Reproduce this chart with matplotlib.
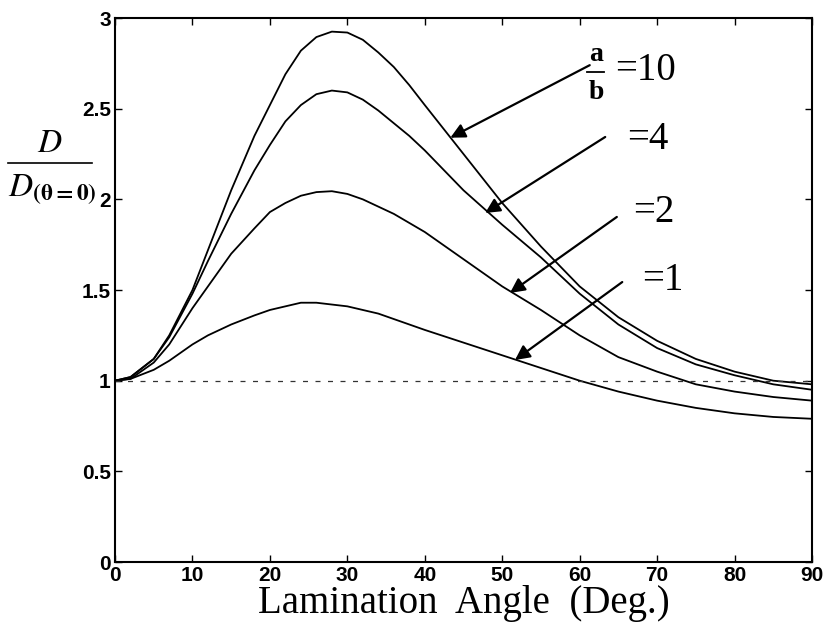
import numpy as np
import matplotlib
matplotlib.use('Agg')
import matplotlib.pyplot as plt
from matplotlib.lines import Line2D

# lamination angle (deg)
angle = [0, 2, 5, 7, 10, 12, 15, 18, 20, 22, 24, 26, 28, 30, 32, 34, 36, 38, 40,
	45, 50, 55, 60, 65, 70, 75, 80, 85, 90]

# D / D(theta=0) for a/b = 10, 4, 2, 1
d_ab10 = [1.00, 1.02, 1.12, 1.25, 1.50, 1.72, 2.05, 2.35, 2.52, 2.69, 2.82, 2.895, 2.925, 2.92,
	2.88, 2.81, 2.73, 2.63, 2.52, 2.25, 1.98, 1.74, 1.52, 1.35, 1.22, 1.12, 1.05, 1.00, 0.98]
d_ab4 = [1.00, 1.02, 1.12, 1.24, 1.48, 1.66, 1.92, 2.16, 2.30, 2.43, 2.52, 2.58, 2.60, 2.59,
	2.55, 2.49, 2.42, 2.35, 2.27, 2.05, 1.86, 1.68, 1.48, 1.31, 1.18, 1.09, 1.03, 0.98, 0.95]
d_ab2 = [1.00, 1.01, 1.10, 1.20, 1.40, 1.52, 1.70, 1.84, 1.93, 1.98, 2.02, 2.04, 2.045, 2.03,
	2.00, 1.96, 1.92, 1.87, 1.82, 1.67, 1.52, 1.39, 1.25, 1.13, 1.05, 0.98, 0.94, 0.91, 0.89]
d_ab1 = [1.00, 1.01, 1.06, 1.11, 1.20, 1.25, 1.31, 1.36, 1.39, 1.41, 1.43, 1.43, 1.42, 1.41,
	1.39, 1.37, 1.34, 1.31, 1.28, 1.21, 1.14, 1.07, 1.00, 0.94, 0.89, 0.85, 0.82, 0.80, 0.79]

xticks = [0, 10, 20, 30, 40, 50, 60, 70, 80, 90]
yticks = [0, 0.5, 1, 1.5, 2, 2.5, 3]
ytick_labels = ['0', '0.5', '1', '1.5', '2', '2.5', '3']

plt.rcParams['mathtext.fontset'] = 'stix'

fig = plt.figure(figsize=(8.24, 6.44), dpi=100)
ax = fig.add_axes([0.1396, 0.1273, 0.8458, 0.8447])

for d in [d_ab10, d_ab4, d_ab2, d_ab1]:
	ax.plot(angle, d, color='black', lw=1.3)

# reference line D = D(theta=0)
ax.axhline(1.0, color='#333333', lw=0.9, ls=(0, (4, 6)))

ax.set_xlim(0, 90)
ax.set_ylim(0, 3)
ax.set_xticks(xticks)
ax.set_yticks(yticks)
ax.set_yticklabels(ytick_labels)
ax.tick_params(direction='in', top=True, right=True, length=5, width=1,
	labelsize=15, pad=3)
for lab in ax.get_xticklabels() + ax.get_yticklabels():
	lab.set_fontfamily('Liberation Sans')
	lab.set_fontweight('bold')
for sp in ax.spines.values():
	sp.set_linewidth(1.5)

ax.set_xlabel('Lamination  Angle  (Deg.)', family='Liberation Serif',
	fontsize=28, labelpad=0)

# arrows pointing to the curves
arrow_kw = dict(arrowstyle='-|>', color='black', lw=1.6, mutation_scale=22,
	shrinkA=0, shrinkB=0)
ax.annotate('', xy=(43.3, 2.34), xytext=(61.3, 2.74), arrowprops=arrow_kw)
ax.annotate('', xy=(47.8, 1.925), xytext=(63.3, 2.344), arrowprops=arrow_kw)
ax.annotate('', xy=(51.0, 1.484), xytext=(64.8, 1.903), arrowprops=arrow_kw)
ax.annotate('', xy=(51.65, 1.114), xytext=(65.5, 1.544), arrowprops=arrow_kw)

tfont = dict(family='Liberation Serif', va='center', ha='left')
ax.text(62.1, 2.80, 'a', fontsize=20, family='Liberation Serif', weight='bold',
	ha='center', va='center')
ax.text(62.1, 2.59, 'b', fontsize=20, family='Liberation Serif', weight='bold',
	ha='center', va='center')
ax.plot([61.0, 63.2], [2.70, 2.70], color='black', lw=1.3, clip_on=False)
ax.text(64.6, 2.71, '=10', fontsize=28, **tfont)
ax.text(66.1, 2.33, '=4', fontsize=28, **tfont)
ax.text(66.9, 1.925, '=2', fontsize=28, **tfont)
ax.text(68.1, 1.555, '=1', fontsize=28, **tfont)

# y label as a fraction D / D(theta=0)
fig.text(50 / 824, 1 - 142 / 644, r'$D$', fontsize=24, ha='center', va='center')
fig.add_artist(Line2D([8 / 824, 92 / 824], [1 - 163 / 644, 1 - 163 / 644],
	color='black', lw=1.2))
fig.text(8 / 824, 1 - 190 / 644, r'$D_{\mathbf{(\theta=0)}}$', fontsize=24,
	ha='left', va='center')

fig.savefig('out.png', dpi=100)
